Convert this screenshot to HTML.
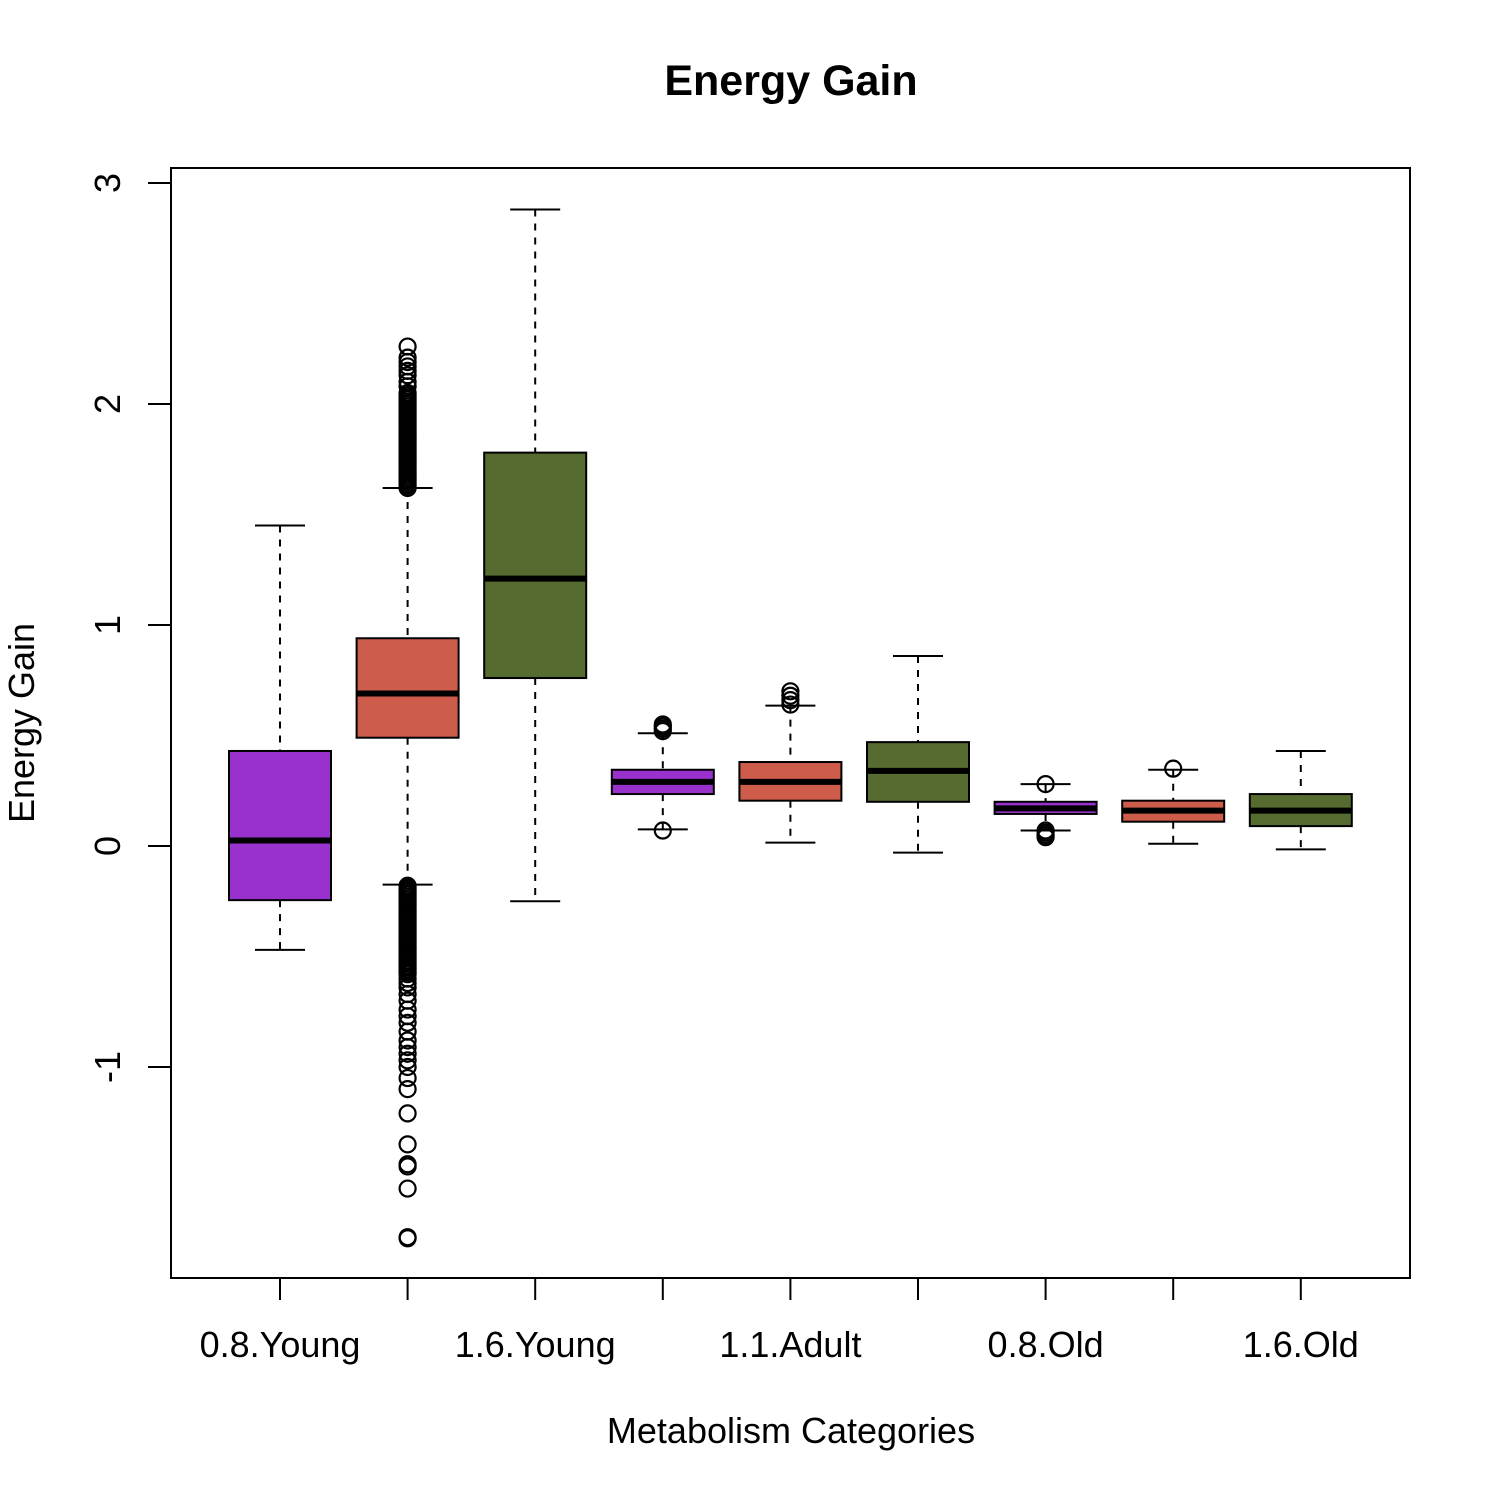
<!DOCTYPE html>
<html><head><meta charset="utf-8"><style>
body{margin:0;background:#fff}
svg text{font-family:"Liberation Sans",sans-serif}
</style></head><body>
<svg id="chart" width="1493" height="1490" xmlns="http://www.w3.org/2000/svg">
<text x="791" y="95" font-size="43" font-weight="bold" text-anchor="middle">Energy Gain</text>
<text x="791" y="1443" font-size="36" text-anchor="middle">Metabolism Categories</text>
<text transform="translate(34,723) rotate(-90)" font-size="36" text-anchor="middle">Energy Gain</text>
<rect x="171" y="168" width="1239" height="1110" fill="none" stroke="#000" stroke-width="2"/>
<g id="marks"></g>
</svg>
<script>
const categories=["0.8.Young","1.1.Young","1.6.Young","0.8.Adult","1.1.Adult","1.6.Adult","0.8.Old","1.1.Old","1.6.Old"];
const whiskerLow=[-0.47,-0.175,-0.25,0.075,0.015,-0.03,0.07,0.01,-0.015];
const q1=[-0.245,0.49,0.76,0.235,0.205,0.2,0.145,0.11,0.09];
const medians=[0.025,0.69,1.21,0.29,0.29,0.34,0.17,0.16,0.16];
const q3=[0.43,0.94,1.78,0.345,0.38,0.47,0.2,0.205,0.235];
const whiskerHigh=[1.45,1.62,2.88,0.51,0.635,0.86,0.28,0.345,0.43];
const outliers=[[],
 [1.62,1.63,1.64,1.65,1.66,1.67,1.68,1.69,1.7,1.71,1.72,1.73,1.74,1.75,1.76,1.77,1.78,1.79,1.8,1.81,1.82,1.83,1.84,1.85,1.86,1.87,1.88,1.89,1.9,1.91,1.92,1.93,1.94,1.95,1.96,1.97,1.98,1.99,2.0,2.01,2.02,2.03,2.04,2.05,2.08,2.1,2.13,2.15,2.17,2.19,2.21,2.26,
  -0.18,-0.19,-0.2,-0.21,-0.22,-0.23,-0.24,-0.25,-0.26,-0.27,-0.28,-0.29,-0.3,-0.31,-0.32,-0.33,-0.34,-0.35,-0.36,-0.37,-0.38,-0.39,-0.4,-0.41,-0.42,-0.43,-0.44,-0.45,-0.46,-0.47,-0.48,-0.49,-0.5,-0.51,-0.52,-0.53,-0.54,-0.55,-0.56,-0.57,-0.58,-0.6,-0.62,-0.64,-0.67,-0.7,-0.74,-0.77,-0.8,-0.84,-0.88,-0.91,-0.94,-0.97,-1.0,-1.05,-1.1,-1.21,-1.35,-1.44,-1.45,-1.55,-1.77,-1.775],
 [],[0.52,0.53,0.54,0.55,0.07],[0.64,0.66,0.68,0.7],[],[0.28,0.07,0.06,0.05,0.04],[0.35],[]];
const yTicks=[-1,0,1,2,3];
const colors=["#9932CC","#CD5C4B","#556B2F"];
const y=v=>846-v*221;
const x=i=>280+i*127.6;
const g=document.getElementById('marks');
const NS="http://www.w3.org/2000/svg";
function mk(t,a,name){const e=document.createElementNS(NS,t);for(const k in a)e.setAttribute(k,a[k]);


g.appendChild(e);return e;}
yTicks.forEach(v=>{
 mk('line',{x1:148,x2:171,y1:y(v),y2:y(v),stroke:'#000','stroke-width':2},'y-tick');
 const t=mk('text',{transform:`translate(120,${y(v)}) rotate(-90)`,'font-size':36,'text-anchor':'middle'},'y-tick-label');t.textContent=v;
});
categories.forEach((c,i)=>{
 const cx=x(i);
 mk('line',{x1:cx,x2:cx,y1:1278,y2:1300,stroke:'#000','stroke-width':2},'x-tick');
 if(i%2===0){const t=mk('text',{x:cx,y:1357,'font-size':36,'text-anchor':'middle'},'x-tick-label');t.textContent=c;}
 mk('line',{x1:cx,x2:cx,y1:y(whiskerHigh[i]),y2:y(q3[i]),stroke:'#000','stroke-width':2,'stroke-dasharray':'7,7'},'whisker-upper');
 mk('line',{x1:cx,x2:cx,y1:y(q1[i]),y2:y(whiskerLow[i]),stroke:'#000','stroke-width':2,'stroke-dasharray':'7,7'},'whisker-lower');
 mk('line',{x1:cx-25,x2:cx+25,y1:y(whiskerHigh[i]),y2:y(whiskerHigh[i]),stroke:'#000','stroke-width':2},'whisker-cap');
 mk('line',{x1:cx-25,x2:cx+25,y1:y(whiskerLow[i]),y2:y(whiskerLow[i]),stroke:'#000','stroke-width':2},'whisker-cap');
 mk('rect',{x:cx-51,y:y(q3[i]),width:102,height:y(q1[i])-y(q3[i]),fill:colors[i%3],stroke:'#000','stroke-width':2},'box-'+c);
 mk('line',{x1:cx-51,x2:cx+51,y1:y(medians[i]),y2:y(medians[i]),stroke:'#000','stroke-width':6},'median-line');
 outliers[i].forEach(v=>mk('circle',{cx:cx,cy:y(v),r:8,fill:'none',stroke:'#000','stroke-width':2.2},'outlier'));
});
</script>
</body></html>
